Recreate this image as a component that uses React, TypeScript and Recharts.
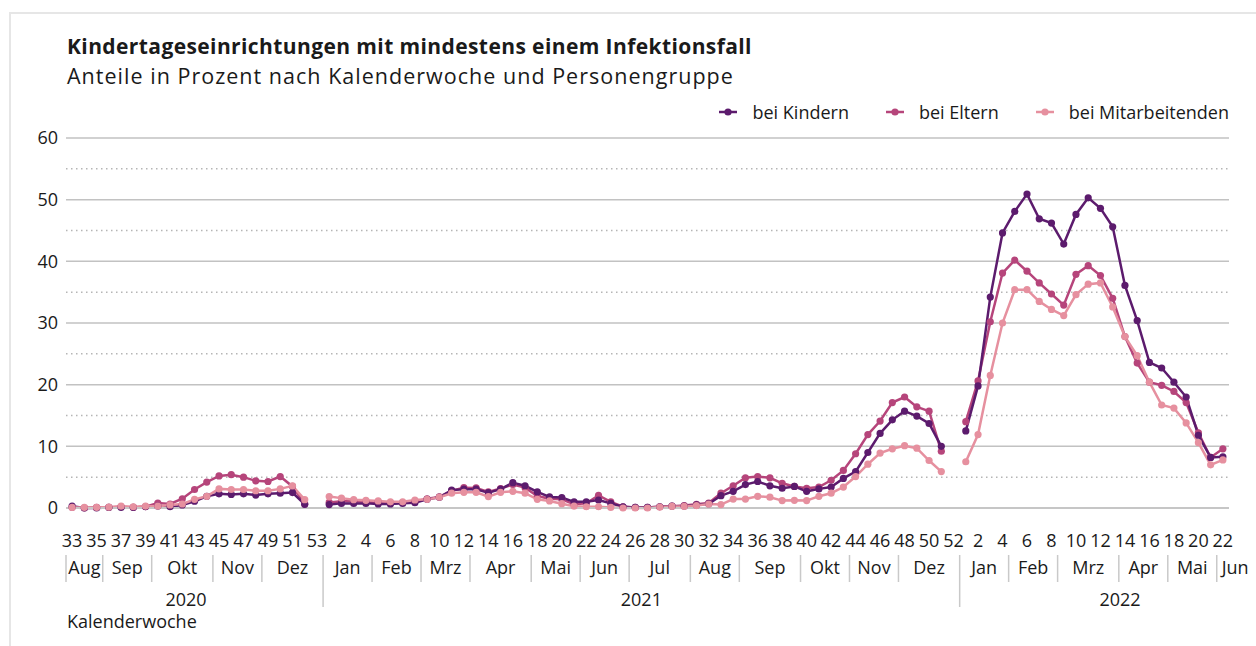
import { LineChart, Line, XAxis, YAxis, CartesianGrid, ReferenceLine, Legend } from "recharts"

const FONT = "'Open Sans', sans-serif"
const TEXT = "#1a1a1a"

// Kalenderwochen: 2020 KW33-53, 2021 KW1-52, 2022 KW1-22
const weeks = [
  33, 34, 35, 36, 37, 38, 39, 40, 41, 42, 43, 44, 45, 46, 47, 48, 49, 50, 51, 52, 53,
  1, 2, 3, 4, 5, 6, 7, 8, 9, 10, 11, 12, 13, 14, 15, 16, 17, 18, 19, 20, 21, 22, 23, 24, 25, 26,
  27, 28, 29, 30, 31, 32, 33, 34, 35, 36, 37, 38, 39, 40, 41, 42, 43, 44, 45, 46, 47, 48, 49, 50, 51, 52,
  1, 2, 3, 4, 5, 6, 7, 8, 9, 10, 11, 12, 13, 14, 15, 16, 17, 18, 19, 20, 21, 22,
]

const kinder = [
  0.3, 0.0, 0.0, 0.1, 0.1, 0.1, 0.2, 0.3, 0.2, 0.5, 1.1, 1.9, 2.3, 2.2, 2.3, 2.1, 2.3, 2.4, 2.5, 0.6, null,
  0.55, 0.75, 0.75, 0.75, 0.65, 0.65, 0.75, 0.85, 1.4, 1.75, 2.9, 3.05, 3.05, 2.5, 3.05, 4.1, 3.6, 2.6, 1.8, 1.7, 1.0, 1.0, 1.3, 0.75, 0.2,
  0.1, 0.1, 0.2, 0.3, 0.3, 0.5, 0.7, 2.0, 2.7, 3.8, 4.3, 3.6, 3.2, 3.5, 2.7, 3.1, 3.4, 4.8, 5.9, 9.0, 12.1, 14.3, 15.7, 14.9, 13.7, 10.0, null,
  12.5, 19.8, 34.2, 44.6, 48.1, 50.9, 46.9, 46.2, 42.8, 47.6, 50.3, 48.6, 45.6, 36.1, 30.4, 23.6, 22.7, 20.4, 18.0, 11.8, 8.2, 8.3,
]

const eltern = [
  0.1, 0.0, 0.1, 0.1, 0.2, 0.1, 0.2, 0.8, 0.65, 1.5, 3.0, 4.2, 5.2, 5.4, 5.0, 4.4, 4.3, 5.1, 3.5, 0.65, null,
  0.9, 1.1, 1.1, 1.0, 1.0, 0.75, 0.85, 1.0, 1.5, 1.8, 2.8, 3.3, 3.25, 2.6, 3.15, 3.8, 3.3, 1.95, 1.5, 1.4, 0.6, 0.75, 2.05, 1.0, 0.2,
  0.1, 0.1, 0.2, 0.3, 0.4, 0.6, 0.8, 2.4, 3.6, 4.9, 5.1, 4.9, 4.0, 3.5, 3.2, 3.4, 4.5, 6.1, 8.8, 11.9, 14.1, 17.1, 18.0, 16.4, 15.7, 9.2, null,
  14.0, 20.6, 30.2, 38.1, 40.2, 38.4, 36.5, 34.7, 32.9, 37.9, 39.3, 37.7, 34.0, 27.8, 23.5, 20.4, 19.9, 18.9, 17.1, 12.2, 8.2, 9.6,
]

const mitarbeitende = [
  0.1, 0.1, 0.1, 0.15, 0.3, 0.2, 0.3, 0.3, 0.5, 0.65, 1.4, 1.9, 3.1, 3.0, 3.0, 2.8, 2.8, 3.1, 3.6, 1.35, null,
  1.85, 1.6, 1.35, 1.25, 1.15, 1.0, 1.0, 1.3, 1.4, 1.75, 2.4, 2.55, 2.55, 1.85, 2.55, 2.7, 2.4, 1.4, 1.15, 0.7, 0.3, 0.2, 0.2, 0.1, 0.0,
  0.0, 0.0, 0.15, 0.25, 0.25, 0.4, 0.65, 0.55, 1.45, 1.45, 1.9, 1.75, 1.2, 1.25, 1.2, 1.9, 2.4, 3.4, 5.1, 7.1, 8.9, 9.6, 10.1, 9.7, 7.7, 5.9, null,
  7.5, 11.9, 21.5, 30.0, 35.4, 35.4, 33.5, 32.2, 31.2, 34.6, 36.3, 36.5, 32.6, 27.8, 24.7, 20.4, 16.7, 16.2, 13.8, 10.6, 7.0, 7.8,
]

// Positionen auf der Wochen-Achse (Index), für Monats- und Jahresbeschriftung
const monthNames = ["Aug", "Sep", "Okt", "Nov", "Dez", "Jan", "Feb", "Mrz", "Apr", "Mai", "Jun", "Jul", "Aug", "Sep", "Okt", "Nov", "Dez", "Jan", "Feb", "Mrz", "Apr", "Mai", "Jun"]
const monthCenters = [1, 4.5, 9, 13.5, 18, 22.5, 26.5, 30.5, 35, 39.5, 43.5, 48, 52.5, 57, 61.5, 65.5, 70, 74.5, 78.5, 83, 87.5, 91.5, 95]
const monthBounds = [-0.5, 2.5, 6.5, 11.5, 15.5, 20.5, 24.5, 28.5, 32.5, 37.5, 41.5, 45.5, 50.5, 54.5, 59.5, 63.5, 67.5, 72.5, 76.5, 80.5, 85.5, 89.5, 93.5]
const yearBounds = [20.5, 72.5]
const yearNames = ["2020", "2021", "2022"]
const yearCenters = [9.3, 46.5, 85.6]

const yTicks = [0, 10, 20, 30, 40, 50, 60]
const yMinor = [5, 15, 25, 35, 45, 55]

const series = [
  { key: "kinder", name: "bei Kindern", color: "#5c1b6d" },
  { key: "eltern", name: "bei Eltern", color: "#b6457b" },
  { key: "mitarbeitende", name: "bei Mitarbeitenden", color: "#e6909f" },
]

const data = weeks.map((w, i) => ({
  idx: i,
  week: w,
  kinder: kinder[i],
  eltern: eltern[i],
  mitarbeitende: mitarbeitende[i],
}))

const domain = [-0.5, 94.5]
const weekTicks = data.filter((d) => d.idx % 2 === 0).map((d) => d.idx)

const SepTick = ({ x, y, payload }: any) => {
  const isYear = yearBounds.includes(payload.value)
  return (
    <line x1={x} x2={x} y1={y + 7} y2={y + (isYear ? 59 : 34)} stroke="#c9c9c9" strokeWidth={1.5} />
  )
}

const LegendContent = () => (
  <div style={{ display: "flex", justifyContent: "flex-end", gap: 37, fontFamily: FONT, fontSize: 18, color: TEXT }}>
    {series.map((s) => (
      <div key={s.key} style={{ display: "flex", alignItems: "center" }}>
        <svg width={18} height={10} style={{ marginRight: 15 }}>
          <line x1={0} x2={18} y1={5} y2={5} stroke={s.color} strokeWidth={2.5} />
          <circle cx={9} cy={5} r={3.6} fill={s.color} />
        </svg>
        <span>{s.name}</span>
      </div>
    ))}
  </div>
)

const tickStyle = { fill: TEXT, fontSize: 18, fontFamily: FONT }

export default function App() {
  return (
    <div style={{ position: "absolute", left: 0, top: 0, width: 1256, height: 646, overflow: "hidden", background: "#fff" }}>
      <div style={{ position: "absolute", left: 9, top: 12, width: 1400, height: 800, border: "2px solid #e6e6e6" }} />
      <div style={{ position: "absolute", left: 67, top: 36, fontFamily: FONT, fontSize: 21, fontWeight: 700, letterSpacing: 0.4, lineHeight: 1, color: TEXT, whiteSpace: "nowrap" }}>
        Kindertageseinrichtungen mit mindestens einem Infektionsfall
      </div>
      <div style={{ position: "absolute", left: 67, top: 65, fontFamily: FONT, fontSize: 21.5, letterSpacing: 1.02, lineHeight: 1, color: TEXT, whiteSpace: "nowrap" }}>
        Anteile in Prozent nach Kalenderwoche und Personengruppe
      </div>
      <div style={{ position: "absolute", left: 67, top: 612, fontFamily: FONT, fontSize: 18, lineHeight: 1, color: TEXT, whiteSpace: "nowrap" }}>
        Kalenderwoche
      </div>
      <div style={{ position: "absolute", left: 0, top: 0 }}>
        <LineChart width={1256} height={646} data={data} margin={{ top: 138, right: 27, bottom: 38, left: 0 }}>
          <CartesianGrid vertical={false} stroke="#c2c2c2" strokeWidth={1.5} />
          {yMinor.map((v) => (
            <ReferenceLine key={v} y={v} stroke="#b5b5b5" strokeWidth={1.5} strokeDasharray="1.5 3.5" />
          ))}
          <YAxis
            domain={[0, 60]}
            ticks={yTicks}
            width={66}
            axisLine={false}
            tickLine={false}
            tick={tickStyle}
          />
          <XAxis
            dataKey="idx"
            type="number"
            domain={domain}
            ticks={weekTicks}
            interval={0}
            height={40}
            tickLine={false}
            tickSize={0}
            tickMargin={26}
            axisLine={{ stroke: "#c6c6c6", strokeWidth: 2 }}
            tickFormatter={(v: number) => String(weeks[v])}
            tick={tickStyle}
          />
          <XAxis
            xAxisId="a1sep"
            dataKey="idx"
            type="number"
            domain={domain}
            ticks={monthBounds}
            interval={0}
            height={1}
            axisLine={false}
            tickLine={false}
            tickSize={0}
            tickMargin={0}
            tick={(props: any) => <SepTick {...props} />}
          />
          <XAxis
            xAxisId="a2mon"
            dataKey="idx"
            type="number"
            domain={domain}
            ticks={monthCenters}
            interval={0}
            height={29}
            axisLine={false}
            tickLine={false}
            tickSize={0}
            tickMargin={12}
            tickFormatter={(v: number) => monthNames[monthCenters.indexOf(v)]}
            tick={tickStyle}
          />
          <XAxis
            xAxisId="a3yr"
            dataKey="idx"
            type="number"
            domain={domain}
            ticks={yearCenters}
            interval={0}
            height={30}
            axisLine={false}
            tickLine={false}
            tickSize={0}
            tickMargin={15}
            tickFormatter={(v: number) => yearNames[yearCenters.indexOf(v)]}
            tick={tickStyle}
          />
          <Legend
            layout="horizontal"
            verticalAlign="middle"
            align="center"
            wrapperStyle={{ top: 100, left: 600, width: 629, height: 24 }}
            content={<LegendContent />}
          />
          {[series[1], series[0], series[2]].map((s) => (
            <Line
              key={s.key}
              type="linear"
              dataKey={s.key}
              name={s.name}
              stroke={s.color}
              strokeWidth={2.5}
              dot={{ r: 3.6, fill: s.color, stroke: s.color, strokeWidth: 0 }}
              activeDot={false}
              isAnimationActive={false}
            />
          ))}
        </LineChart>
      </div>
    </div>
  )
}
